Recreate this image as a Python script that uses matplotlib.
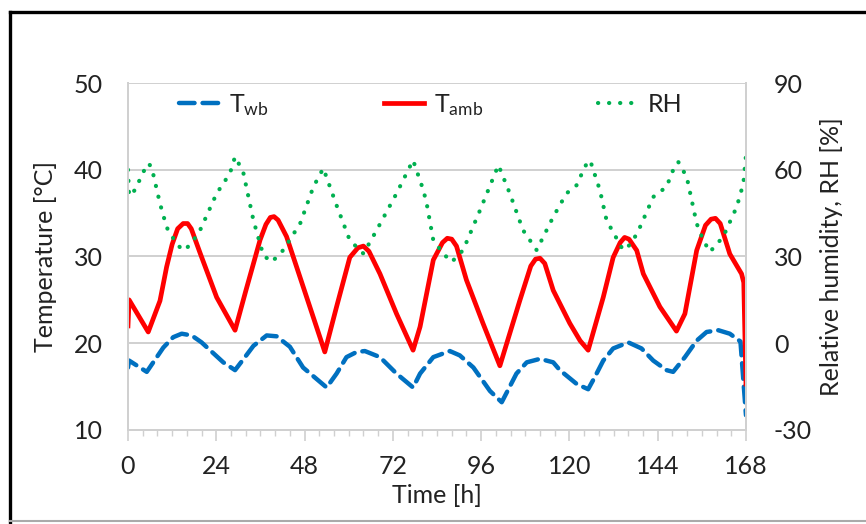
import matplotlib
matplotlib.use('Agg')
import matplotlib.pyplot as plt
from matplotlib.lines import Line2D

plt.rcParams['font.family'] = ['Lato', 'DejaVu Sans']
plt.rcParams['mathtext.default'] = 'regular'
plt.rcParams['axes.unicode_minus'] = False

# ambient temperature, degC
t_amb = [0, 0.3, 5.5, 8.7, 10.5, 12, 13.5, 15, 16.2, 17.2, 19.6, 24.1, 29.1, 32, 35.9, 37.5,
         38.7, 39.7, 40.8, 43.1, 53.5, 56.7, 60.3, 62.5, 64, 65.5, 68.5, 73, 77.5, 79.4,
         83, 85.5, 86.8, 88, 89.3, 92, 96.5, 101.1, 106.5, 109.5, 110.8, 112, 113.3, 115.6,
         120.1, 122.9, 125.1, 129.2, 131.9, 133.8, 135, 136.2, 138.3, 140.1, 144.6, 149.1,
         151.4, 154.6, 157, 158.5, 159.7, 161, 163.6, 166.8, 167.4, 168]
T_amb = [22.0, 25.0, 21.3, 24.9, 28.8, 31.4, 33.2, 33.8, 33.8, 33.2, 30.4, 25.3, 21.5, 26.0, 31.9, 33.7,
         34.5, 34.6, 34.2, 32.3, 19.0, 24.2, 29.9, 31.0, 31.2, 30.6, 28.0, 23.4, 19.2, 21.9,
         29.6, 31.6, 32.1, 32.0, 31.2, 27.3, 22.3, 17.4, 24.9, 28.9, 29.7, 29.8, 29.2, 26.1,
         22.3, 20.3, 19.2, 25.3, 29.9, 31.6, 32.2, 32.0, 30.7, 28.0, 24.2, 21.4,
         23.4, 30.7, 33.6, 34.3, 34.4, 33.8, 30.3, 28.0, 27.0, 15.3]

# wet bulb temperature, degC
t_wb = [0, 0.3, 5.1, 9.6, 12.3, 14.6, 17.3, 20, 22.3, 25.9, 29.1, 31.8, 34.1, 37.7, 40.4,
        44, 47.6, 54, 56.7, 59.4, 62.2, 64.4, 68.5, 73, 77.5, 79.4, 83, 87.5, 90.2,
        93.9, 98.4, 101.6, 105.6, 108.4, 112, 115.6, 117.4, 122, 125.1, 126.9, 129.2,
        131.9, 136, 139.6, 142.8, 146.4, 148.2, 151.4, 154.6, 157.3, 160.5, 163.6,
        166.5, 168]
T_wb = [17.2, 18.0, 16.7, 19.5, 20.7, 21.1, 20.9, 20.1, 19.2, 17.8, 16.9, 18.4, 19.7, 20.9, 20.8,
        19.6, 17.2, 14.9, 16.5, 18.4, 19.0, 19.1, 18.4, 16.5, 14.9, 16.5, 18.4, 19.1, 18.6,
        17.2, 14.5, 13.2, 16.5, 17.8, 18.2, 17.8, 16.9, 15.3, 14.7, 16.1, 18.0,
        19.4, 20.1, 19.4, 18.0, 16.9, 16.7, 18.4, 20.3, 21.3, 21.5, 21.1,
        20.2, 11.7]

# relative humidity, %
t_rh = [0, 0.3, 1.9, 4.2, 5.5, 6.4, 8.7, 10.5, 11.4, 14.5, 15.5, 17.8, 19.6, 24.1, 27.7,
        29.1, 31.3, 34.1, 36.8, 39.1, 42.2, 46.8, 50.4, 53.1, 56.7, 60.3, 64, 67.6, 73,
        77.5, 80.3, 81.2, 83, 85.7, 88, 91.1, 95.7, 100.7, 103.8, 107.4, 111.1, 115.6,
        119.2, 122, 123.8, 125.1, 125.7, 128.3, 130.1, 134.6, 136.9, 139.2, 142.8,
        146.4, 148.2, 149.6, 151.9, 154.6, 156.4, 158.2, 161.8, 165.5, 167.3, 168]
RH = [60, 51, 53, 59.3, 62.2, 61.0, 48.3, 40.2, 37.9, 32.5, 32.2, 35.6, 39.1, 51.8, 58.7,
      64.5, 59.3, 42.5, 30.4, 28.1, 32.2, 41.4, 54.1, 60.5, 47.7, 35.6, 31.0, 39.1, 51.8,
      63.3, 52.9, 48.3, 35.6, 31.0, 28.1, 32.2, 46.0, 61.6, 51.8, 39.1, 32.2, 43.7,
      51.8, 54.7, 59.9, 63.1, 63.0, 52.9, 42.5, 32.2, 34.5, 40.2, 50.6,
      54.1, 59.9, 62.7, 57.5, 41.4, 35.6, 31.6, 36.8, 47.2, 55.3, 65]

x_ticks = [0, 24, 48, 72, 96, 120, 144, 168]

fig = plt.figure(figsize=(8.66, 5.24), dpi=100)
ax = fig.add_axes([0.1478, 0.1794, 0.7136, 0.6622])
ax2 = ax.twinx()

grey = '#d0d0d0'
l1, = ax.plot(t_wb, T_wb, color='#0070c0', lw=3.2, linestyle=(0, (3.5, 1.8)),
              dash_capstyle='round', label='T$_{wb}$')
l2, = ax.plot(t_amb, T_amb, color='#ff0000', lw=3.4, label='T$_{amb}$',
              solid_joinstyle='round')
l3, = ax2.plot(t_rh, RH, color='#00b050', lw=3.0, linestyle=(0, (0.05, 2.6)),
               dash_capstyle='round', label='RH')

ax.set_xlim(0, 168)
ax.set_ylim(10, 50)
ax2.set_ylim(-30, 90)
ax.set_xticks(x_ticks)
ax.set_xticks(range(0, 169, 4), minor=True)
ax.set_yticks([10, 20, 30, 40, 50])
ax2.set_yticks([-30, 0, 30, 60, 90])

ax.grid(axis='y', color=grey, lw=1.4)
ax.set_axisbelow(True)
for a in (ax, ax2):
    for s in a.spines.values():
        s.set_color(grey)
        s.set_linewidth(1.4)
    a.spines['top'].set_visible(False)

ax.tick_params(axis='x', which='major', length=8, width=1.2, color=grey, direction='out',
               labelsize=18, pad=10, labelcolor='#222222')
ax.tick_params(axis='x', which='minor', length=4, width=1.0, color=grey, direction='out')
ax.tick_params(axis='y', length=0, labelsize=18, pad=18, labelcolor='#222222')
ax2.tick_params(axis='y', length=0, labelsize=18, pad=20, labelcolor='#222222')

ax.set_xlabel('Time [h]', fontsize=18, color='#222222', labelpad=4)
ax.set_ylabel('Temperature [°C]', fontsize=18, color='#222222', labelpad=12)
ax2.set_ylabel('Relative humidity, RH [%]', fontsize=18, color='#222222', labelpad=6)

ax.legend(handles=[l1, l2, l3], loc='upper center', ncol=3, frameon=False, fontsize=18,
          bbox_to_anchor=(0.49, 1.04), columnspacing=4.6, handlelength=1.6,
          handletextpad=0.4, labelcolor='#222222')

# outer frame of the picture
fig.add_artist(Line2D([0.0115, 0.0115], [0, 0.977], color='black', lw=2.4,
                      transform=fig.transFigure))
fig.add_artist(Line2D([0.0115, 1.0], [0.977, 0.977], color='black', lw=2.4,
                      transform=fig.transFigure))
fig.add_artist(Line2D([0.0115, 1.0], [0.005, 0.005], color='#aaaaaa', lw=1.5,
                      transform=fig.transFigure))

fig.savefig('out.png', dpi=100)
